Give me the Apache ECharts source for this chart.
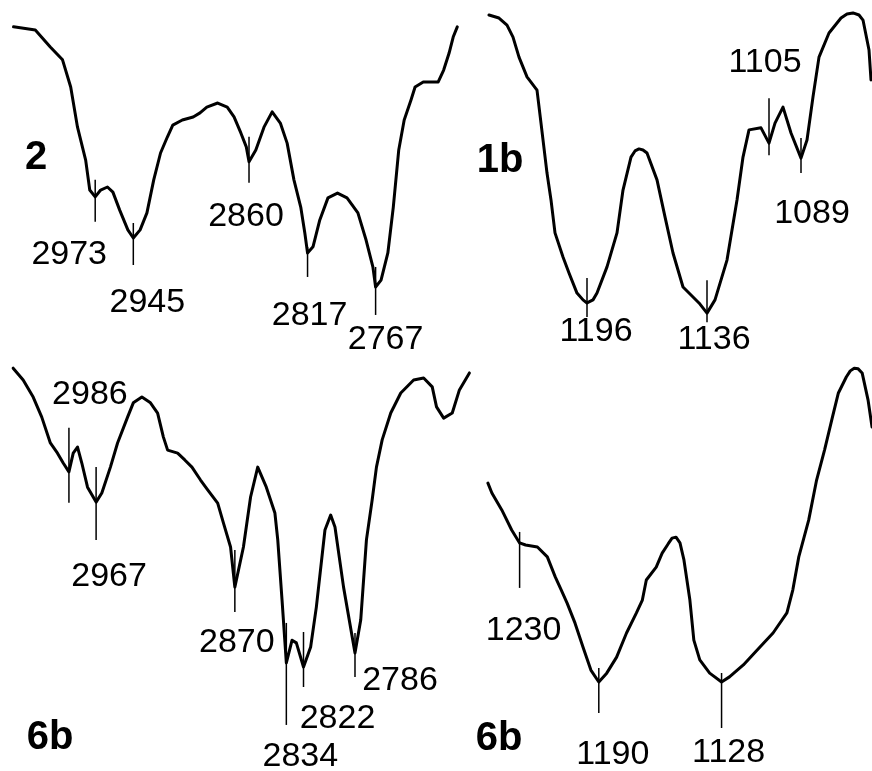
<!DOCTYPE html>
<html>
<head>
<meta charset="utf-8">
<script src="https://cdn.jsdelivr.net/npm/echarts@6/dist/echarts.min.js"></script>
<style>
  html, body { margin: 0; padding: 0; background: #fff; }
  #chart { width: 872px; height: 771px; }
</style>
</head>
<body>
<div id="chart"></div>
<script>
// IR spectra: wavenumber (cm-1) vs. transmittance (%)

// Compound 2, C-H stretching region
const wn2 = [3033,3017,3006,2997,2991,2986,2980,2977,2973,2969,2964,2960,2955,2949,2945,2940,2935,2930,2925,2920,2916,2909,2901,2896,2891,2883,2876,2871,2866,2862,2860,2855,2849,2843,2837,2832,2827,2822,2819,2817,2813,2808,2802,2795,2788,2780,2774,2769,2767,2763,2758,2754,2750,2746,2741,2738,2732,2721,2717,2713,2710,2707];
const t2 = [92.1,91.2,86.2,82.4,74.4,62.6,52.9,44.1,42.1,44.1,45.0,43.5,38.2,32.4,30.0,32.4,37.4,47.1,55.0,59.7,63.2,64.7,65.6,66.8,68.5,69.7,68.5,65.6,60.9,56.8,52.4,55.9,62.6,67.1,63.8,57.9,47.1,39.1,31.5,25.6,27.4,35.3,41.8,43.2,41.8,37.4,29.4,21.5,15.6,17.6,25.6,39.1,55.9,64.7,70.6,74.4,75.9,75.9,79.4,84.4,89.1,92.1];
const peaks2 = [2973, 2945, 2860, 2817, 2767];

// Compound 1b, 1250-1050 cm-1
const wn1b = [1245,1240,1236,1233,1230,1226,1221,1219,1216,1214,1212,1208,1205,1201,1198,1196,1193,1191,1186,1181,1178,1174,1172,1170,1168,1166,1161,1157,1153,1148,1140,1136,1132,1126,1121,1118,1115,1109,1105,1102,1098,1094,1089,1086,1083,1080,1075,1069,1066,1063,1060,1058,1055,1054];
const t1b = [95.6,94.7,92.6,89.1,83.2,77.4,73.5,63.8,49.1,41.2,31.5,24.4,19.7,13.8,11.8,10.9,11.8,13.8,21.5,31.5,44.1,53.8,55.6,56.2,55.9,55.0,47.1,36.2,25.6,15.6,10.9,7.9,11.8,23.5,41.2,53.8,61.8,62.4,57.9,63.8,68.5,60.9,53.5,58.8,71.5,83.2,90.3,94.7,95.9,96.2,95.6,94.1,85.3,76.5];
const peaks1b = [1196, 1136, 1105, 1089];

// Compound 6b, C-H stretching region
const wn6b = [3025,3018,3011,3005,2999,2994,2990,2986,2983,2980,2977,2973,2967,2963,2957,2952,2945,2941,2935,2929,2924,2920,2917,2910,2905,2900,2894,2889,2882,2878,2873,2870,2864,2859,2854,2848,2842,2840,2837,2834,2830,2827,2822,2817,2813,2807,2803,2800,2794,2786,2782,2778,2774,2771,2767,2761,2754,2745,2738,2732,2729,2724,2718,2713,2706];
const t6b = [97.6,94.1,89.1,83.2,75.6,72.6,69.7,67.1,72.6,74.4,69.7,62.6,58.2,60.9,68.5,75.6,83.2,87.4,89.1,87.4,84.4,77.4,73.5,72.6,70.6,68.5,64.7,61.8,57.9,52.1,45.0,33.2,45.0,59.7,68.5,62.6,55.0,47.1,29.4,10.9,17.6,16.8,9.7,15.6,27.4,50.0,54.4,50.9,33.2,13.8,23.5,47.1,58.8,68.5,76.5,84.4,90.3,94.1,94.7,92.1,86.2,82.9,84.4,91.2,96.2];
const peaks6b = [2986, 2967, 2870, 2834, 2822, 2786];

// Compound 6b, 1250-1050 cm-1
const wn6bF = [1246,1244,1239,1234,1230,1227,1221,1216,1212,1209,1206,1202,1198,1194,1190,1186,1181,1176,1171,1168,1166,1161,1158,1155,1153,1151,1149,1147,1144,1142,1139,1134,1128,1124,1117,1110,1102,1095,1092,1089,1084,1080,1076,1072,1069,1065,1063,1061,1059,1057,1054,1052];
const t6bF = [63.8,60.9,55.9,50.0,46.2,45.6,45.0,42.1,36.2,32.4,28.5,22.6,15.6,8.8,5.3,7.9,12.6,19.7,25.6,29.4,35.3,39.1,43.2,45.9,47.6,47.9,46.2,41.2,29.4,17.6,11.8,7.9,5.3,6.8,10.3,14.7,19.7,25.6,32.4,42.1,52.9,64.7,73.5,83.2,90.3,95.0,96.8,97.6,97.4,96.2,88.2,80.3];
const peaks6bF = [1230, 1190, 1128];

// Panel names
const panelNames = ['2', '1b', '6b', '6b'];

// Peak marker geometry per panel: [tick above, tick below, label dx, label dy] in px
const markLayout = [
  [[17,25,-26,58],[15,27,14,65],[25,21,-3,55],[6,24,2,63],[20,28,10,53]],
  [[25,14,9,29],[33,9,7,26],[45,12,-4,-81],[20,15,11,56]],
  [[44,31,21,-77],[35,38,13,75],[37,25,2,56],[40,62,14,94],[35,20,34,52],[20,24,45,28]],
  [[11,45,4,88],[14,31,14,73],[9,46,7,71]]
];

const FONT = '"Liberation Sans", Arial, Helvetica, sans-serif';

// linear interpolation of a trace at a given wavenumber
function valueAt(xs, ys, x) {
  for (let i = 0; i < xs.length - 1; i++) {
    const a = xs[i], b = xs[i + 1];
    if ((x <= a && x >= b) || (x >= a && x <= b)) {
      if (a === b) return ys[i];
      return ys[i] + (ys[i + 1] - ys[i]) * (x - a) / (b - a);
    }
  }
  return ys[ys.length - 1];
}

const panels = [
  { wn: wn2,  t: t2,  peaks: peaks2,  grid: { left: 4,   top: 0,   width: 456, height: 340 }, xr: [2705, 3040], name: { x: 36,  y: 158 } },
  { wn: wn1b, t: t1b, peaks: peaks1b, grid: { left: 479, top: 0,   width: 400, height: 340 }, xr: [1050, 1250], name: { x: 500, y: 161 } },
  { wn: wn6b, t: t6b, peaks: peaks6b, grid: { left: 6,   top: 360, width: 472, height: 340 }, xr: [2700, 3030], name: { x: 50,  y: 738 } },
  { wn: wn6bF, t: t6bF, peaks: peaks6bF, grid: { left: 480, top: 360, width: 396, height: 340 }, xr: [1050, 1250], name: { x: 499, y: 739 } }
];

const grids = [], xAxes = [], yAxes = [], series = [], graphics = [];

panels.forEach((p, i) => {
  grids.push(Object.assign({ containLabel: false, outerBoundsMode: 'none' }, p.grid));
  xAxes.push({ type: 'value', gridIndex: i, inverse: true, min: p.xr[0], max: p.xr[1], show: false });
  yAxes.push({ type: 'value', gridIndex: i, min: 0, max: 100, show: false });

  series.push({
    type: 'line', xAxisIndex: i, yAxisIndex: i, clip: false, silent: true,
    showSymbol: false, symbol: 'none',
    lineStyle: { color: '#000', width: 3, join: 'round', cap: 'round' },
    data: p.wn.map((w, k) => [w, p.t[k]])
  });

  const layout = markLayout[i];
  series.push({
    type: 'custom', xAxisIndex: i, yAxisIndex: i, clip: false, silent: true,
    data: p.peaks.map(w => [w, valueAt(p.wn, p.t, w)]),
    renderItem(params, api) {
      const pt = api.coord([api.value(0), api.value(1)]);
      const [up, down, dx, dy] = layout[params.dataIndex];
      return {
        type: 'group',
        children: [
          { type: 'line', shape: { x1: pt[0], y1: pt[1] - up, x2: pt[0], y2: pt[1] + down },
            style: { stroke: '#000', lineWidth: 1.5 } },
          { type: 'text', x: pt[0] + dx, y: pt[1] + dy,
            style: { text: String(p.peaks[params.dataIndex]), fill: '#000',
                     font: '34px ' + FONT, align: 'center', verticalAlign: 'middle' } }
        ]
      };
    }
  });

  graphics.push({
    type: 'text', x: p.name.x, y: p.name.y,
    style: { text: panelNames[i], fill: '#000', font: 'bold 40px ' + FONT,
             align: 'center', verticalAlign: 'middle' }
  });
});

const chart = echarts.init(document.getElementById('chart'), null, { renderer: 'canvas' });
chart.setOption({
  animation: false,
  backgroundColor: '#fff',
  grid: grids,
  xAxis: xAxes,
  yAxis: yAxes,
  series: series,
  graphic: graphics
});
</script>
</body>
</html>
